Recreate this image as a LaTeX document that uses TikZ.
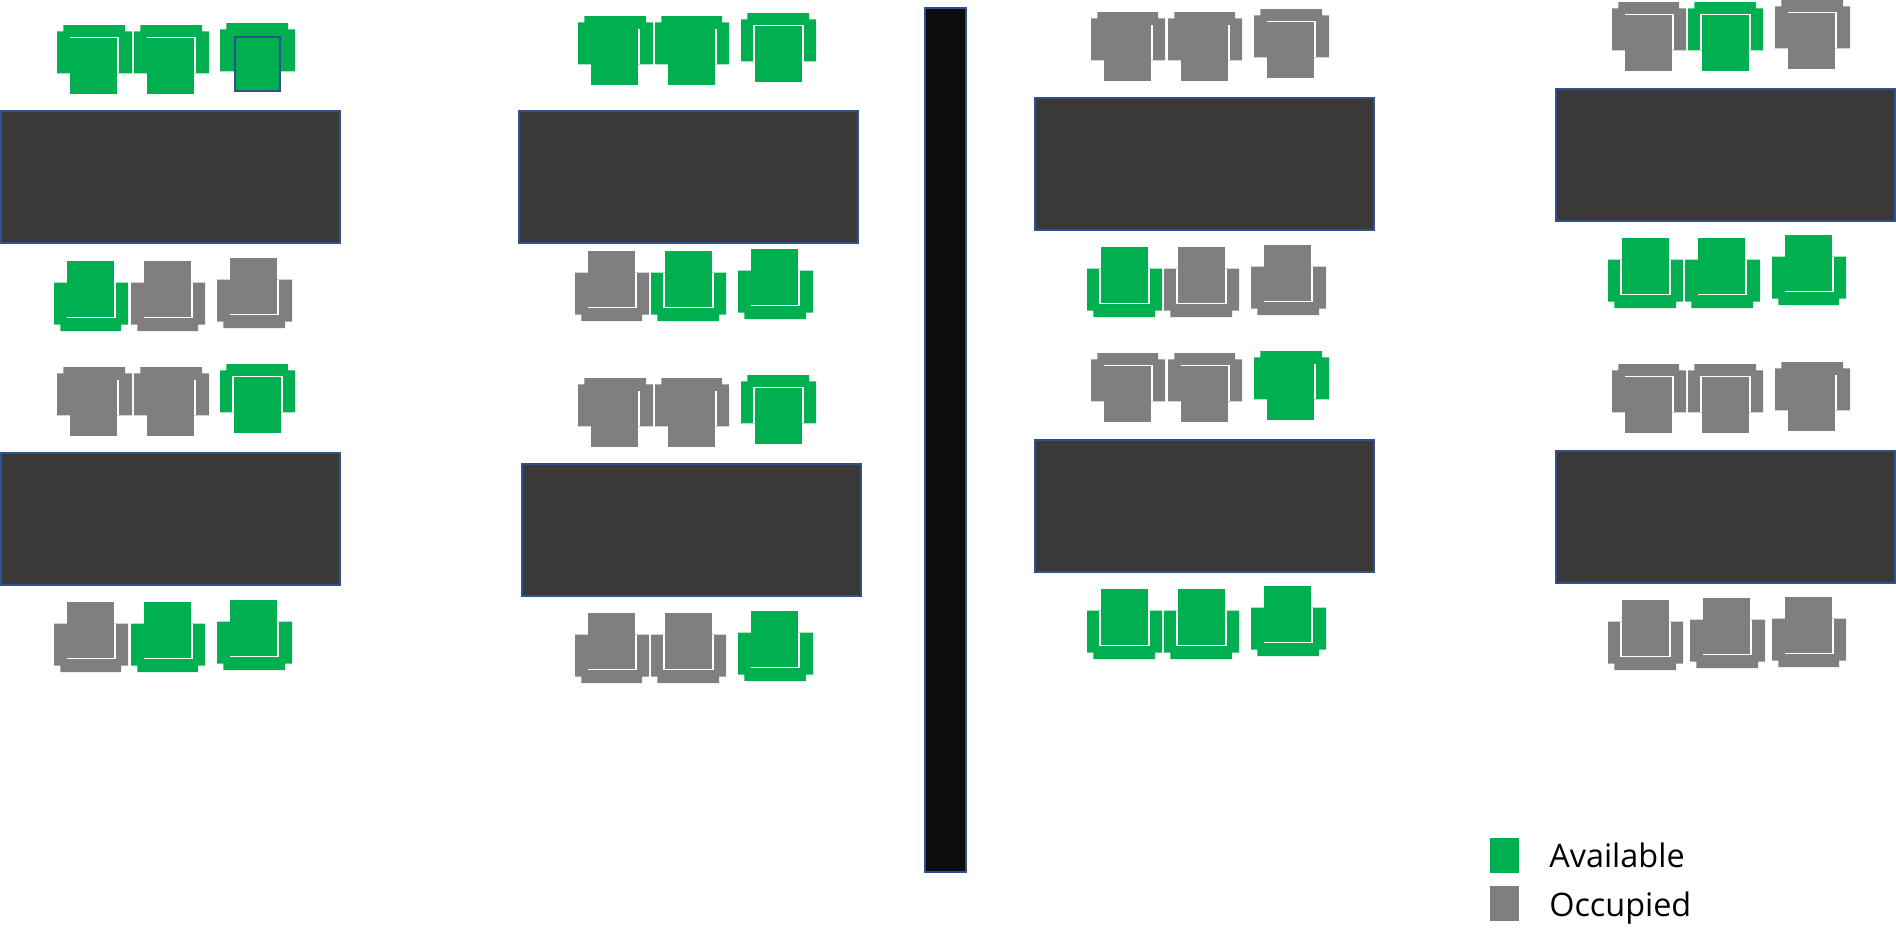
\documentclass[tikz,border=0pt]{standalone}
\usepackage{fontspec}
\setmainfont{Open Sans}

\definecolor{seatgreen}{HTML}{00B050}
\definecolor{seatgray}{HTML}{7F7F7F}
\definecolor{deskfill}{HTML}{3B3838}
\definecolor{wallfill}{HTML}{0D0D0D}
\definecolor{edgeblue}{HTML}{2F528F}

\tikzset{
	desk/.style={draw=edgeblue,fill=deskfill,line width=1.5pt,minimum width=254.25pt,minimum height=99pt,inner sep=0pt},
	wall/.style={draw=edgeblue,fill=wallfill,line width=1.5pt,minimum width=30.75pt,minimum height=648pt,inner sep=0pt},
	legendbox/.style={minimum width=21.75pt,minimum height=26.25pt,inner sep=0pt},
	legendtext/.style={anchor=base west,inner sep=0pt,text=black,font=\fontsize{24.3}{29}\selectfont},
	seatline/.style={draw=white,line width=1.05pt}
}

% seat and white edge of a chair whose back is on top
\newcommand{\dnR}[1]{\fill[#1] (13,13) rectangle (60,69); \draw[seatline] (61,13) -- (61,48.3);}
\newcommand{\dnTR}[1]{\fill[#1] (13,13) rectangle (60,69); \draw[seatline] (13,12.5) -- (61,12.5) -- (61,48.3);}
\newcommand{\dnBox}[1]{\fill[#1] (14,13) rectangle (61,69); \draw[seatline] (13,48.3) -- (13,12.5) -- (62,12.5) -- (62,48.3);}
\newcommand{\dnBlue}[1]{\fill[#1] (14,13) rectangle (61,69); \draw[edgeblue,line width=1.5pt] (15,14) rectangle (60,68);}
% same for a chair whose back is below
\newcommand{\upBR}[1]{\fill[#1] (13,-70) rectangle (60,-14); \draw[seatline] (13,-13.3) -- (61,-13.3) -- (61,-48.4);}
\newcommand{\upBox}[1]{\fill[#1] (14,-70) rectangle (61,-14); \draw[seatline] (13,-48.4) -- (13,-13.3) -- (62,-13.3) -- (62,-48.4);}

% x, y of the back, width, colour, kind
\newcommand{\chairdown}[5]{
	\begin{scope}[shift={(#1,#2)}]
		\fill[#4] (0,6.3) -- (6.3,6.3) -- (6.3,0) -- ({#3-7},0) -- ({#3-7},6.3) -- (#3,6.3) -- (#3,48.3) -- (0,48.3) -- cycle;
		\csname dn#5\endcsname{#4}
	\end{scope}
}
\newcommand{\chairup}[5]{
	\begin{scope}[shift={(#1,#2)}]
		\fill[#4] (0,-48.4) -- (#3,-48.4) -- (#3,-6.4) -- ({#3-7},-6.4) -- ({#3-7},0) -- (6.3,0) -- (6.3,-6.4) -- (0,-6.4) -- cycle;
		\csname up#5\endcsname{#4}
	\end{scope}
}

\begin{document}
\begin{tikzpicture}[x=0.75pt,y=-0.75pt]
	\useasboundingbox (0,0) rectangle (1896,951);

	\node[desk] (DeskA) at (170.5,177) {};
	\node[desk] (DeskB) at (170.5,519) {};
	\node[desk] (DeskC) at (688.5,176.5) {};
	\node[desk] (DeskD) at (691.5,530) {};
	\node[desk] (DeskE) at (1204.5,164) {};
	\node[desk] (DeskF) at (1204.5,505.5) {};
	\node[desk] (DeskG) at (1725.5,155) {};
	\node[desk] (DeskH) at (1725.5,516.5) {};

	\node[wall] (Wall) at (945.5,440) {};

	%% first column
	\chairdown{57}{25}{75}{seatgreen}{TR}
	\chairdown{134}{25}{75}{seatgreen}{TR}
	\chairdown{220}{23}{75}{seatgreen}{Blue}
	\chairup{54}{331}{74}{seatgreen}{BR}
	\chairup{131}{331}{74}{seatgray}{BR}
	\chairup{217}{328}{75}{seatgray}{BR}
	\chairdown{57}{367}{75}{seatgray}{R}
	\chairdown{134}{367}{75}{seatgray}{R}
	\chairdown{220}{364}{75}{seatgreen}{Box}
	\chairup{54}{672}{74}{seatgray}{BR}
	\chairup{131}{672}{74}{seatgreen}{BR}
	\chairup{217}{670}{75}{seatgreen}{BR}

	%% second column
	\chairdown{578}{16}{75}{seatgreen}{R}
	\chairdown{655}{16}{74}{seatgreen}{R}
	\chairdown{741}{13}{75}{seatgreen}{Box}
	\chairup{575}{321}{74}{seatgray}{BR}
	\chairup{651}{321}{75}{seatgreen}{Box}
	\chairup{738}{319}{75}{seatgreen}{BR}
	\chairdown{578}{378}{75}{seatgray}{R}
	\chairdown{655}{378}{74}{seatgray}{R}
	\chairdown{741}{375}{75}{seatgreen}{Box}
	\chairup{575}{683}{74}{seatgray}{BR}
	\chairup{651}{683}{75}{seatgray}{Box}
	\chairup{738}{681}{75}{seatgreen}{BR}

	%% third column
	\chairdown{1091}{12}{74}{seatgray}{R}
	\chairdown{1168}{12}{74}{seatgray}{R}
	\chairdown{1254}{9}{75}{seatgray}{TR}
	\chairup{1087}{317}{75}{seatgreen}{Box}
	\chairup{1164}{317}{75}{seatgray}{Box}
	\chairup{1251}{315}{75}{seatgray}{BR}
	\chairdown{1091}{353}{74}{seatgray}{TR}
	\chairdown{1168}{353}{74}{seatgray}{TR}
	\chairdown{1254}{351}{75}{seatgreen}{R}
	\chairup{1087}{659}{75}{seatgreen}{Box}
	\chairup{1164}{659}{75}{seatgreen}{Box}
	\chairup{1251}{656}{75}{seatgreen}{BR}

	%% fourth column
	\chairdown{1612}{2}{74}{seatgray}{TR}
	\chairdown{1688}{2}{75}{seatgreen}{Box}
	\chairdown{1775}{0}{75}{seatgray}{TR}
	\chairup{1608}{308}{75}{seatgreen}{Box}
	\chairup{1685}{308}{75}{seatgreen}{BR}
	\chairup{1772}{305}{74}{seatgreen}{BR}
	\chairdown{1612}{364}{74}{seatgray}{TR}
	\chairdown{1688}{364}{75}{seatgray}{Box}
	\chairdown{1775}{362}{75}{seatgray}{R}
	\chairup{1608}{670}{75}{seatgray}{Box}
	\chairup{1690}{668}{75}{seatgray}{BR}
	\chairup{1772}{667}{74}{seatgray}{BR}

	%%% Legend
	\node[legendbox,fill=seatgreen] (AvailBox) at (1504.5,855.5) {};
	\node[legendbox,fill=seatgray] (OccBox) at (1504.5,903.5) {};
	\node[legendtext] (AvailText) at (1549,867.7) {Available};
	\node[legendtext] (OccText) at (1549,916.7) {Occupied};
\end{tikzpicture}
\end{document}
